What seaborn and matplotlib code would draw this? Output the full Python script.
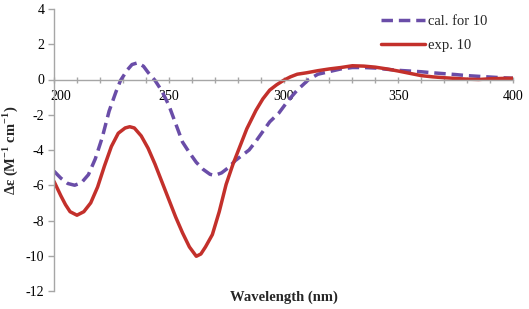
import matplotlib
matplotlib.use("Agg")
import matplotlib.pyplot as plt
import matplotlib.transforms as mtransforms
import seaborn as sns
import pandas as pd

# ---- data ----
exp_wl = [200, 203, 205, 207, 210, 213, 216, 219, 222, 225, 228, 231, 233, 235, 238,
          241, 244, 247, 250, 253, 256, 259, 262, 264, 266, 269, 272, 275, 278, 281,
          284, 288, 291, 294, 297, 300, 303, 306, 310, 315, 320, 325, 330, 335, 340,
          345, 350, 355, 360, 365, 370, 375, 380, 385, 390, 395, 400]
exp_val = [-5.78, -6.6, -7.1, -7.5, -7.7, -7.5, -7.0, -6.1, -4.9, -3.8, -3.05, -2.75, -2.68, -2.75, -3.2,
           -3.9, -4.8, -5.8, -6.8, -7.8, -8.7, -9.5, -10.03, -9.9, -9.5, -8.8, -7.5, -5.95, -4.8, -3.8,
           -2.8, -1.75, -1.1, -0.6, -0.3, -0.05, 0.15, 0.3, 0.38, 0.5, 0.6, 0.68, 0.78, 0.76, 0.7,
           0.6, 0.48, 0.35, 0.22, 0.15, 0.1, 0.06, 0.02, 0.0, 0.04, 0.06, 0.07]

cal_wl = [200, 203, 206, 209, 212, 215, 218, 221, 224, 227, 229, 232, 234, 236.5, 239,
          241, 244, 247, 250, 253, 256, 259, 262, 265, 268, 270, 273, 276, 279, 282,
          285, 288, 291, 294, 298, 302, 306, 311, 315, 320, 325, 330, 335, 340, 345,
          350, 355, 360, 365, 370, 375, 380, 385, 390, 395, 400]
cal_val = [-5.2, -5.6, -5.9, -6.0, -5.85, -5.4, -4.5, -3.3, -1.8, -0.7, -0.05, 0.55, 0.85, 0.95, 0.75,
           0.4, -0.05, -0.65, -1.45, -2.5, -3.55, -4.15, -4.7, -5.1, -5.38, -5.44, -5.3, -5.0, -4.6, -4.3,
           -4.0, -3.5, -2.95, -2.4, -1.9, -1.2, -0.6, 0.0, 0.3, 0.45, 0.6, 0.68, 0.68, 0.65, 0.58,
           0.52, 0.48, 0.44, 0.38, 0.33, 0.28, 0.22, 0.18, 0.14, 0.1, 0.07]

series_labels = ["cal. for 10", "exp. 10"]
x_ticks = [200, 250, 300, 350, 400]
y_ticks = [-12, -10, -8, -6, -4, -2, 0, 2, 4]

# ---- style ----
sns.set_theme(style="white")
plt.rcParams["font.family"] = ["Liberation Serif", "DejaVu Serif"]
plt.rcParams["mathtext.fontset"] = "custom"
plt.rcParams["mathtext.rm"] = "Liberation Serif"
plt.rcParams["mathtext.bf"] = "Liberation Serif:bold"
plt.rcParams["axes.unicode_minus"] = False

axis_gray = "#A6A6A6"
purple = "#6A4DA8"
red = "#C3302B"

fig = plt.figure(figsize=(5.29, 3.09), dpi=100)
ax = fig.add_axes([54 / 529, 1 - 291 / 309, (513 - 54) / 529, (291 - 9) / 309])

cal_df = pd.DataFrame({"wl": cal_wl, "val": cal_val})
exp_df = pd.DataFrame({"wl": exp_wl, "val": exp_val})

sns.lineplot(data=cal_df, x="wl", y="val", ax=ax, color=purple, lw=2.5,
             linestyle=(0, (3.3, 1.7)), label=series_labels[0], sort=False)
sns.lineplot(data=exp_df, x="wl", y="val", ax=ax, color=red, lw=2.5,
             label=series_labels[1], sort=False)

ax.set_xlim(200, 400)
ax.set_ylim(-12, 4)
ax.set_xticks(x_ticks)
ax.set_xticks(range(200, 401, 10), minor=True)
ax.set_yticks(y_ticks)

for s in ["top", "right"]:
    ax.spines[s].set_visible(False)
ax.spines["bottom"].set_position(("data", 0))
ax.spines["left"].set_color(axis_gray)
ax.spines["bottom"].set_color(axis_gray)
ax.spines["left"].set_linewidth(1.0)
ax.spines["bottom"].set_linewidth(1.0)

ax.tick_params(axis="y", which="major", direction="out", length=4, width=1,
               color=axis_gray, labelsize=10, pad=3, left=True)
ax.tick_params(axis="x", which="both", direction="inout", length=5, width=1,
               color=axis_gray, labelsize=10, pad=5, bottom=True)
for lab in ax.get_xticklabels() + ax.get_yticklabels():
    lab.set_color("black")

ax.set_xlabel("Wavelength (nm)", fontsize=10.5, fontweight="bold")
ax.set_ylabel(r"Δε (M$^{\mathbf{-1}}$ cm$^{\mathbf{-1}}$)", fontsize=10.5, fontweight="bold")
ax.xaxis.set_label_coords(0.5, 0.0)
ax.yaxis.set_label_coords(-0.074, 0.5)

leg = ax.legend(loc="upper left", bbox_to_anchor=(381 / 529, 1 - 14.5 / 309),
                bbox_transform=fig.transFigure, frameon=False, fontsize=10.5,
                handlelength=3.0, handletextpad=0.2, labelspacing=0.75,
                borderpad=0, borderaxespad=0)

fig.canvas.draw()
first = ax.xaxis.get_major_ticks()[0].label1
first.set_transform(first.get_transform() +
                    mtransforms.ScaledTranslation(0.07, 0, fig.dpi_scale_trans))

fig.savefig("out.png", dpi=100)
